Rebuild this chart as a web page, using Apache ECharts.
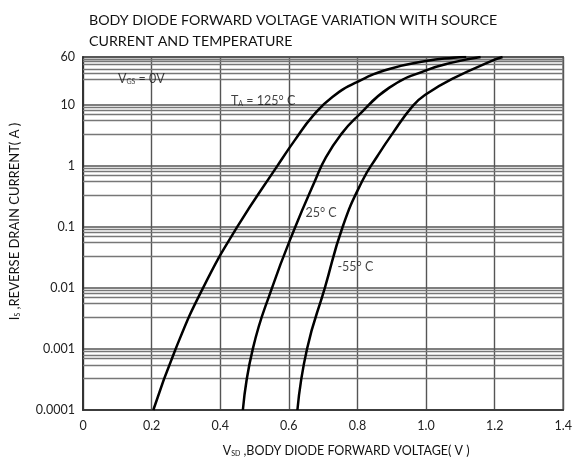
<!DOCTYPE html>
<html>
<head>
<meta charset="utf-8">
<script src="https://cdn.jsdelivr.net/npm/echarts@6/dist/echarts.min.js"></script>
<style>
  html, body { margin: 0; background: #fff; }
  #chart { width: 575px; height: 464px; }
</style>
</head>
<body>
<div id="chart"></div>
<script>
// V_SD (V) against I_S (A)
const v125 = [0.205, 0.27, 0.35, 0.45, 0.567, 0.617, 0.672, 0.727, 0.80, 0.893, 1.00, 1.08, 1.117]
const i125 = [0.0001, 0.001, 0.01, 0.1, 1, 2.59, 6.7, 13.3, 23.6, 38.2, 51.6, 58.3, 60]

const v25 = [0.466, 0.495, 0.551, 0.619, 0.676, 0.708, 0.754, 0.80, 0.893, 1.00, 1.079, 1.159]
const i25 = [0.0001, 0.001, 0.01, 0.1, 0.56, 1.37, 3.34, 6.4, 18.9, 36.3, 49, 60]

const vm55 = [0.625, 0.653, 0.705, 0.757, 0.814, 0.856, 0.902, 0.962, 1.00, 1.079, 1.20, 1.223]
const im55 = [0.0001, 0.001, 0.01, 0.1, 0.56, 1.37, 3.34, 9.6, 14.7, 26.8, 54.3, 60]

// y grid: decade lines come from the axis, the extra lines inside each decade
const decades = [0.0001, 0.001, 0.01, 0.1, 1]
const decadeSteps = [3.3, 5.5, 7, 8, 9]
const topLines = [25.5, 38, 46.5, 50.6, 55]

const xTicks = ['0', '0.2', '0.4', '0.6', '0.8', '1.0', '1.2', '1.4']

// curve annotations
const notes = [
  { at: [0.17, 26], text: '{m|V}{s|GS}{m| = 0V}' },
  { at: [0.525, 11.5], text: '{m|T}{s|A}{m| = 125° C}' },
  { at: [0.694, 0.17], text: '{m|25° C}' },
  { at: [0.794, 0.022], text: '{m|-55° C}' }
]

const pairs = (xs, ys) => xs.map((x, i) => [x, ys[i]])

const minorLevels = []
decades.forEach(d => decadeSteps.forEach(f => minorLevels.push(+(d * f).toPrecision(3))))
decadeSteps.forEach(f => minorLevels.push(10 * f))
topLines.forEach(v => minorLevels.push(v))

const font = 'Lato'
const rich = {
  m: { fontFamily: font, fontSize: 12.5, color: '#111' },
  s: { fontFamily: font, fontSize: 7, color: '#111', verticalAlign: 'bottom', padding: [6, 0, 0, 0] }
}

const chart = echarts.init(document.getElementById('chart'))

const curve = (name, data) => ({
  name, type: 'line', data, smooth: 0.5, symbol: 'none', z: 5,
  lineStyle: { color: '#000', width: 2.5 }
})

chart.setOption({
  animation: false,
  title: {
    text: 'BODY DIODE FORWARD VOLTAGE VARIATION WITH SOURCE\nCURRENT AND TEMPERATURE',
    left: 84, top: 5,
    textStyle: { fontFamily: font, fontSize: 14.2, fontWeight: 'normal', color: '#111', lineHeight: 21 }
  },
  grid: {
    left: 83, right: 10, top: 57, bottom: 54,
    show: true, borderColor: '#333', borderWidth: 1.5
  },
  xAxis: {
    type: 'value', min: 0, max: 1.4, interval: 0.2,
    name: '{m|V}{s|SD}{m| ,BODY DIODE FORWARD VOLTAGE( V )}',
    nameLocation: 'middle', nameGap: 34,
    nameTextStyle: { rich: { m: { ...rich.m, fontSize: 12.5 }, s: rich.s }, padding: [0, 0, 0, 46] },
    axisLine: { lineStyle: { color: '#333', width: 1.5 } },
    axisTick: { show: false },
    axisLabel: {
      fontFamily: font, fontSize: 12.5, color: '#222', margin: 9,
      formatter: (v) => xTicks[Math.round(v / 0.2)]
    },
    splitLine: { lineStyle: { color: '#555', width: 1.4 } }
  },
  yAxis: {
    type: 'log', logBase: 10, min: 0.0001, max: 60,
    name: '{m|I}{s|S}{m| ,REVERSE DRAIN CURRENT( A )}',
    nameLocation: 'middle', nameGap: 62, nameRotate: 90,
    nameTextStyle: { rich: { m: { ...rich.m, fontSize: 13 }, s: rich.s }, padding: [0, 0, 0, 24] },
    axisLine: { show: true, lineStyle: { color: '#333', width: 2 } },
    axisTick: { show: false },
    axisLabel: {
      fontFamily: font, fontSize: 12.5, color: '#222', margin: 8,
      formatter: (v) => String(+Number(v).toPrecision(2))
    },
    splitLine: { lineStyle: { color: '#555', width: 1.6 } }
  },
  series: [
    {
      name: 'grid', type: 'line', data: [], z: 1, silent: true,
      markLine: {
        silent: true, symbol: 'none', animation: false, precision: 8,
        label: { show: false },
        lineStyle: { color: '#777', width: 1.4, type: 'solid' },
        data: minorLevels.map(v => ({ yAxis: v }))
      }
    },
    curve('125°C', pairs(v125, i125)),
    curve('25°C', pairs(v25, i25)),
    curve('-55°C', pairs(vm55, im55)),
    {
      name: 'notes', type: 'scatter', z: 6, silent: true,
      symbolSize: 1, itemStyle: { color: 'rgba(0,0,0,0)' },
      data: notes.map(n => n.at),
      label: {
        show: true, position: 'inside',
        formatter: (p) => notes[p.dataIndex].text,
        rich
      }
    }
  ]
})
</script>
</body>
</html>
